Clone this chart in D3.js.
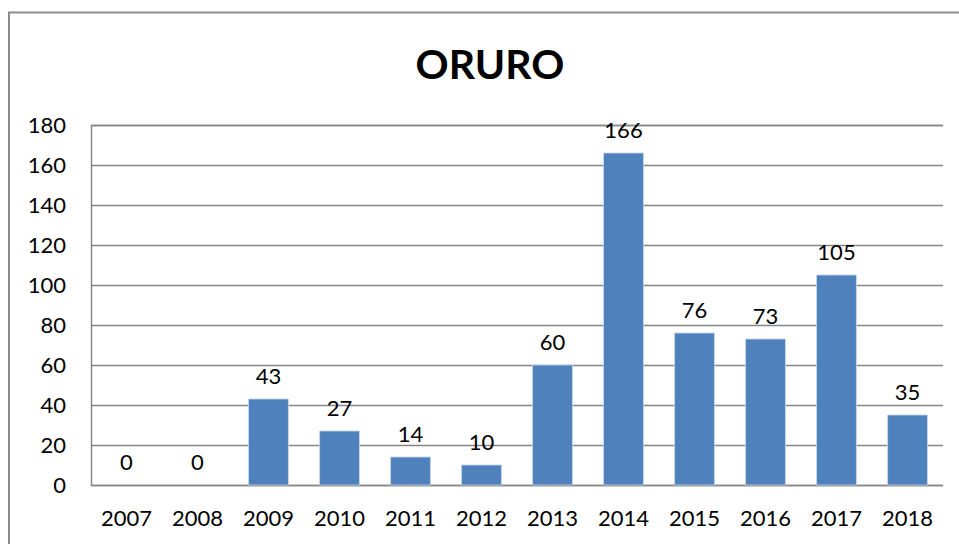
<!DOCTYPE html>
<html><head><meta charset="utf-8">
<script src="https://cdn.jsdelivr.net/npm/d3@7"></script>
<style>body{margin:0;background:#fff;} svg{display:block;}</style>
</head><body>
<svg id="c" width="959" height="544"></svg>
<script>
const categories = ["2007","2008","2009","2010","2011","2012","2013","2014","2015","2016","2017","2018"];
const values = [0,0,43,27,14,10,60,166,76,73,105,35];
const yTicks = [0,20,40,60,80,100,120,140,160,180];
const title = "ORURO";

const svg = d3.select("#c");
const font = "Lato, 'Open Sans', sans-serif";
const m = {l:91, r:943, t:125, b:485};

// outer frame
svg.append("path").attr("d","M9,544 V12.5 H959").attr("fill","none").attr("stroke","#8c8c8c").attr("stroke-width",2);

const x = d3.scaleBand().domain(categories).range([m.l,m.r]).paddingInner(0.44).paddingOuter(0.22);
const y = d3.scaleLinear().domain([0,180]).range([m.b,m.t]);

// grid
const gy = svg.append("g").attr("transform",`translate(${m.l},0)`)
  .call(d3.axisLeft(y).tickValues(yTicks).tickSize(-(m.r-m.l)).tickPadding(25).tickFormat(d3.format("d")));
gy.select(".domain").attr("stroke","#868686").attr("stroke-width",1.5);
gy.selectAll(".tick line").attr("stroke","#868686").attr("stroke-width",1.5);
gy.selectAll(".tick text").attr("font-family",font).attr("font-size",22).attr("fill","#000");

// bars
svg.append("g").selectAll("rect").data(values).join("rect")
  .attr("x",(d,i)=>x(categories[i]))
  .attr("y",d=>y(d))
  .attr("width",x.bandwidth())
  .attr("height",d=>y(0)-y(d))
  .attr("fill","#4F81BD")
  .attr("stroke","#c6d6ea").attr("stroke-width",0.8);

// data labels
svg.append("g").selectAll("text").data(values).join("text")
  .attr("x",(d,i)=>x(categories[i])+x.bandwidth()/2)
  .attr("y",d=>y(d)-15)
  .attr("text-anchor","middle")
  .attr("font-family",font).attr("font-size",22).attr("fill","#000")
  .text(d=>d);

// x axis
const gx = svg.append("g").attr("transform",`translate(0,${m.b})`)
  .call(d3.axisBottom(x).tickSize(0).tickPadding(25));
gx.select(".domain").remove();
gx.selectAll(".tick text").attr("font-family",font).attr("font-size",22).attr("fill","#000");

// title
svg.append("text").attr("x",490).attr("y",79).attr("text-anchor","middle")
  .attr("font-family",font).attr("font-weight","bold").attr("font-size",41).attr("fill","#000").text(title);
</script>
</body></html>
